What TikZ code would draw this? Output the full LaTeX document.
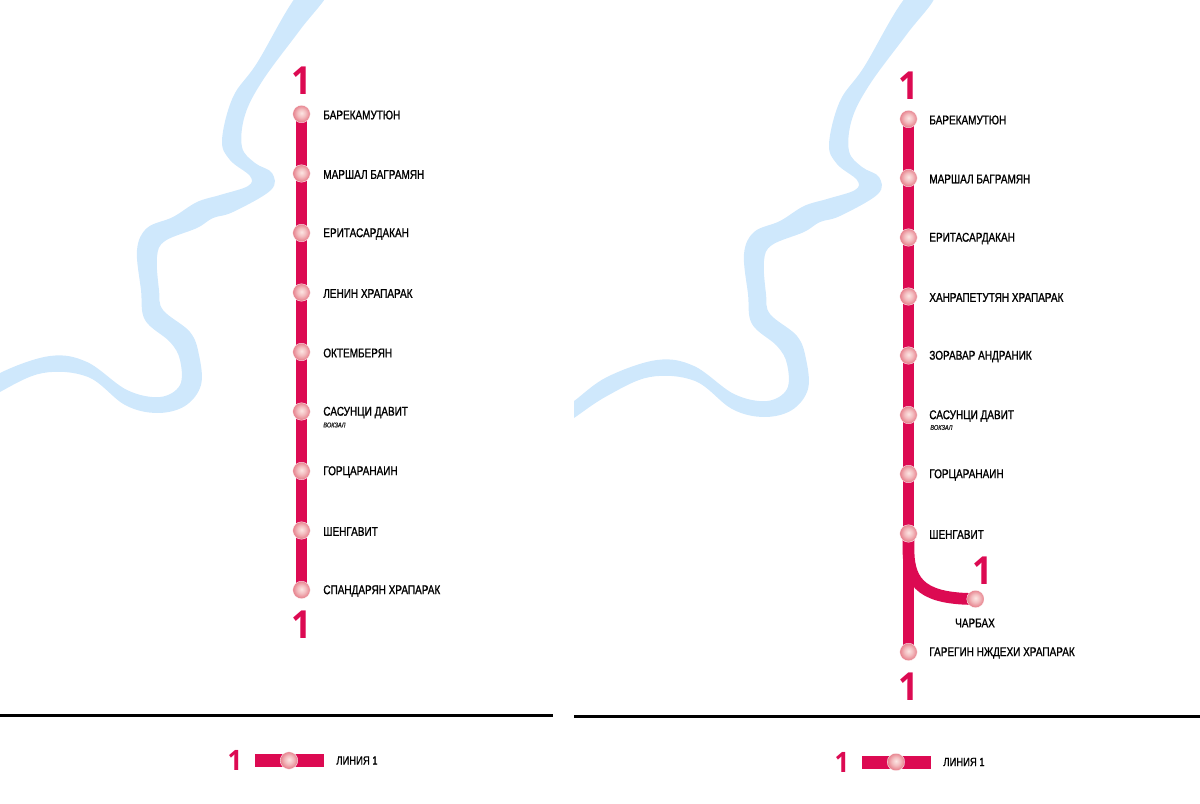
\documentclass[tikz,border=0pt]{standalone}
\usepackage{fontspec}
\setmainfont[FakeStretch=0.79,FakeBold=1.2]{Liberation Sans}
\newfontfamily\numfont{Open Sans}
\usetikzlibrary{backgrounds}
\definecolor{linered}{HTML}{DC0A52}
\definecolor{riverblue}{HTML}{CFE8FC}
\definecolor{ballmid}{HTML}{FCE6E3}
\definecolor{ballrim}{HTML}{E67F8B}
\pgfdeclareradialshading{stationball}{\pgfpoint{0bp}{3bp}}{color(0bp)=(ballmid); color(12bp)=(ballmid!60!ballrim); color(25bp)=(ballrim); color(50bp)=(ballrim)}
\tikzset{
  metroline/.style={draw=linered,line width=0.235cm},
  river/.style={fill=riverblue,draw=none},
  rule/.style={draw=black,line width=0.06cm},
  stationnode/.style={circle,shading=stationball,draw=white,line width=0.2pt,minimum size=0.35cm,inner sep=0pt},
  stationname/.style={anchor=west,inner sep=0pt,font=\fontsize{7.2}{8}\selectfont,text=black},
  subname/.style={anchor=west,inner sep=0pt,font=\fontsize{4}{5}\selectfont\itshape,text=black!85},
  linenum/.style={inner sep=0pt,text=linered,xscale=0.92,font=\numfont\fontsize{22}{24}\bfseries\selectfont},
  legendnum/.style={inner sep=0pt,text=linered,xscale=0.92,font=\numfont\fontsize{16}{18}\bfseries\selectfont},
}
\newcommand{\riverpath}{plot[smooth cycle,tension=0.6] coordinates {(328,-8) (300,30) (263,80) (245,115) (242,147) (255,163) (272,173) (271,190) (233,212) (213,218) (197,228) (165,241) (157,257) (159,290) (163,310) (190,332) (199,355) (201,385) (185,406) (157,413) (125,405) (88,377) (43,373) (0,392) (-33,414) (-45,422) (-45,404) (-33,397) (0,373) (50,356) (87,362) (127,390) (160,397) (180,385) (180,360) (170,342) (145,320) (141,290) (137,250) (147,228) (173,217) (197,202) (220,195) (248,186) (250,176) (230,160) (222,140) (233,97) (257,63) (300,-8)}}
\begin{document}
\begin{tikzpicture}[x=0.02cm,y=-0.02cm]
  \useasboundingbox (0,0) rectangle (1200,804);
  % River
  \fill[river] \riverpath;
  \begin{scope}
    \clip (574,0) rectangle (1200,715);
    \begin{scope}[shift={(607,4)}]
      \fill[river] \riverpath;
    \end{scope}
  \end{scope}
  % Left map
  \foreach \i/\ypos/\sname in {1/114/БАРЕКАМУТЮН,2/173.5/МАРШАЛ БАГРАМЯН,3/233/ЕРИТАСАРДАКАН,4/292.5/ЛЕНИН ХРАПАРАК,5/352/ОКТЕМБЕРЯН,6/411.5/САСУНЦИ ДАВИТ,7/471/ГОРЦАРАНАИН,8/530.5/ШЕНГАВИТ,9/590/СПАНДАРЯН ХРАПАРАК} {
    \node[stationnode] (a\i) at (301.5,\ypos) {};
    \node[stationname] (aname\i) at (323,\ypos+1) {\sname};
  }
  \node[subname] (asub) at (323,425) {ВОКЗАЛ};
  \node[linenum] (atop) at (301.5,81) {1};
  \node[linenum] (abot) at (301.5,625) {1};
  % Right map
  \foreach \i/\ypos/\sname in {1/119/БАРЕКАМУТЮН,2/178/МАРШАЛ БАГРАМЯН,3/237.5/ЕРИТАСАРДАКАН,4/296.5/ХАНРАПЕТУТЯН ХРАПАРАК,5/355.5/ЗОРАВАР АНДРАНИК,6/415/САСУНЦИ ДАВИТ,7/474/ГОРЦАРАНАИН,8/533.5/ШЕНГАВИТ,9/652/ГАРЕГИН НЖДЕХИ ХРАПАРАК} {
    \node[stationnode] (b\i) at (908.5,\ypos) {};
    \node[stationname] (bname\i) at (929,\ypos+1) {\sname};
  }
  \node[subname] (bsub) at (930,427.5) {ВОКЗАЛ};
  \node[stationnode] (bbranch) at (975.5,599) {};
  \node[stationname,anchor=center] (bbranchname) at (975,623) {ЧАРБАХ};
  \node[linenum] (btop) at (908.5,86) {1};
  \node[linenum] (bbot) at (908.5,687) {1};
  \node[linenum] (bbranchnum) at (983,571) {1};
  \coordinate (bfork) at (908.5,550);
  % Legends
  \node[legendnum] (anum) at (235,760) {1};
  \coordinate (abarl) at (255,760.5);
  \coordinate (abarr) at (324,760.5);
  \node[stationnode] (aball) at (289,760.5) {};
  \node[stationname,font=\fontsize{6.8}{7}\selectfont] (alabel) at (336,760.5) {ЛИНИЯ 1};
  \node[legendnum] (bnum) at (842,762) {1};
  \coordinate (bbarl) at (862,762);
  \coordinate (bbarr) at (931,762);
  \node[stationnode] (bball) at (896,762) {};
  \node[stationname,font=\fontsize{6.8}{7}\selectfont] (blabel) at (943,762) {ЛИНИЯ 1};
  % Rules
  \coordinate (arulel) at (0,715);
  \coordinate (aruler) at (553,715);
  \coordinate (brulel) at (574,716);
  \coordinate (bruler) at (1200,716);
  \draw[rule] (arulel) -- (aruler);
  \draw[rule] (brulel) -- (bruler);
  % Lines go under the stations
  \foreach \i/\j in {1/2,2/3,3/4,4/5,5/6,6/7,7/8,8/9} {
    \begin{pgfonlayer}{background}
      \draw[metroline] (a\i.center) -- (a\j.center);
      \draw[metroline] (b\i.center) -- (b\j.center);
    \end{pgfonlayer}
  }
  \begin{pgfonlayer}{background}
    \draw[metroline] (b8.center) -- (bfork) .. controls (908.5,585) and (925,599) .. (bbranch.center);
    \draw[metroline,line width=0.26cm] (abarl) -- (abarr);
    \draw[metroline,line width=0.26cm] (bbarl) -- (bbarr);
  \end{pgfonlayer}
\end{tikzpicture}
\end{document}
